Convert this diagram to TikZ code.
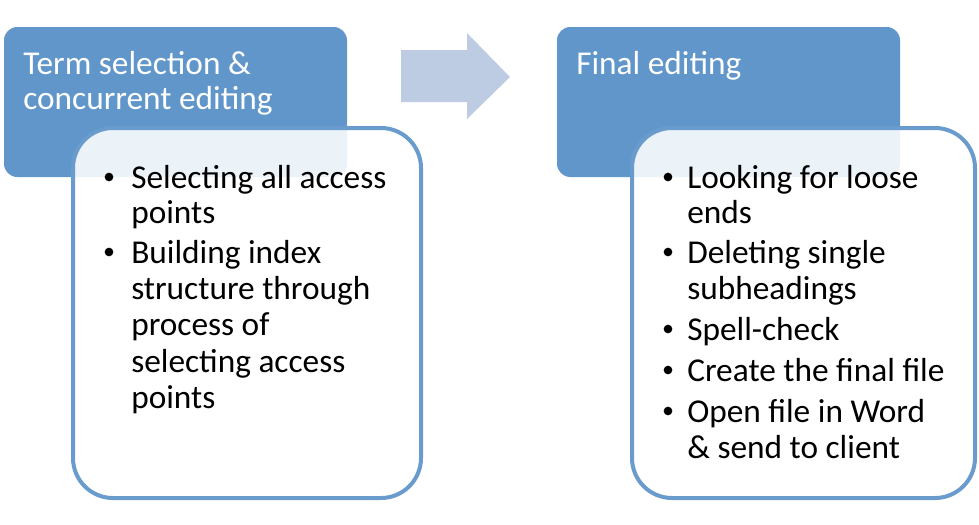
\documentclass[tikz,border=0pt]{standalone}
\usepackage{fontspec}
\setmainfont{Carlito}
\definecolor{hdrblue}{HTML}{6096CA}
\definecolor{edgeblue}{HTML}{6A9BCD}
\definecolor{arrowblue}{HTML}{BDCCE3}
\tikzset{
  hdrbox/.style={fill=hdrblue, draw=none, rounded corners=10},
  bodybox/.style={fill=white, fill opacity=0.88, draw=edgeblue, draw opacity=1, line width=3pt, rounded corners=30},
  hdrtext/.style={anchor=base west, inner sep=0, text=white, font=\fontsize{25}{29}\selectfont},
  bodytext/.style={anchor=base west, inner sep=0, text=black, font=\fontsize{25}{29}\selectfont},
  bul/.style={circle, fill=black, inner sep=0, minimum size=6.5pt},
}
\begin{document}
\begin{tikzpicture}[x=0.75pt, y=-0.75pt]
\useasboundingbox (0,0) rectangle (979,525);
% header boxes
\path[hdrbox] (4,27) rectangle (347,177);
\path[hdrbox] (557,27) rectangle (900,177);
% arrow
\fill[arrowblue] (401,50) -- (467,50) -- (467,33) -- (510,77) -- (467,119) -- (467,102) -- (401,102) -- cycle;
% body boxes
\draw[bodybox] (73,128) rectangle (421,498);
\draw[bodybox] (632,128) rectangle (975,498);
% header texts
\node[hdrtext] (h1a) at (23,74) {Term selection \&};
\node[hdrtext] (h1b) at (23,109) {concurrent editing};
\node[hdrtext] (h2a) at (576,74) {Final editing};
% left bullets
\node[bul] (b1) at (109,177) {};
\node[bodytext] (l1) at (131,188) {Selecting all access};
\node[bodytext] (l2) at (131,223) {points};
\node[bul] (b2) at (109,252) {};
\node[bodytext] (l3) at (131,263) {Building index};
\node[bodytext] (l4) at (131,299) {structure through};
\node[bodytext] (l5) at (131,335) {process of};
\node[bodytext] (l6) at (131,372) {selecting access};
\node[bodytext] (l7) at (131,408) {points};
% right bullets
\node[bul] (c1) at (668,177) {};
\node[bodytext] (r1) at (687,188) {Looking for loose};
\node[bodytext] (r2) at (687,223) {ends};
\node[bul] (c2) at (668,252) {};
\node[bodytext] (r3) at (687,263) {Deleting single};
\node[bodytext] (r4) at (687,299) {subheadings};
\node[bul] (c3) at (668,329) {};
\node[bodytext] (r5) at (687,340) {Spell-check};
\node[bul] (c4) at (668,370) {};
\node[bodytext] (r6) at (687,381) {Create the final file};
\node[bul] (c5) at (668,411) {};
\node[bodytext] (r7) at (687,422) {Open file in Word};
\node[bodytext] (r8) at (687,458) {\& send to client};
\end{tikzpicture}
\end{document}
